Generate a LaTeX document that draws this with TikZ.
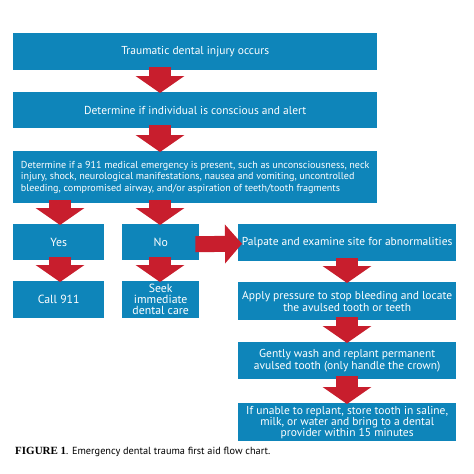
\documentclass[tikz,border=0pt]{standalone}
\usepackage{fontspec}
\setmainfont{PT Sans}
\newfontfamily\capserif{Liberation Serif}
\usetikzlibrary{arrows.meta}
\definecolor{boxblue}{RGB}{14,133,186}
\definecolor{arrowred}{RGB}{200,30,45}
\tikzset{
  box/.style={rectangle, fill=boxblue, text=white, anchor=north west, inner sep=0pt,
    align=center, font=\fontsize{11.5}{11.6}\selectfont},
  bigbox/.style={box, font=\fontsize{11.8}{11}\selectfont},
  barrow/.style={draw=arrowred, line width=22pt, -{Triangle[length=17pt,width=48pt]}},
  harrow/.style={draw=arrowred, line width=16pt, -{Triangle[length=17pt,width=38pt]}}
}
\begin{document}
\begin{tikzpicture}[x=1pt,y=-1pt]
\useasboundingbox (0,0) rectangle (474,474);
\fill[white] (0,0) rectangle (474,474);
% boxes
\node[box, minimum width=364pt, minimum height=37pt] (t1) at (13,33) {Traumatic dental injury occurs};
\node[box, minimum width=364pt, minimum height=36pt] (t2) at (13,92) {Determine if individual is conscious and alert};
\node[box, minimum width=364pt, minimum height=52pt, align=left, font=\fontsize{10.1}{11.7}\selectfont] (t3) at (13,151)
  {Determine if a 911 medical emergency is present, such as unconsciousness, neck\\
   injury, shock, neurological manifestations, nausea and vomiting, uncontrolled\\
   bleeding, compromised airway, and/or aspiration of teeth/tooth fragments};
\node[bigbox, minimum width=91pt, minimum height=36pt] (yes) at (13,224) {Yes};
\node[bigbox, minimum width=77pt, minimum height=36pt] (no) at (122,224) {No};
\node[bigbox, minimum width=91pt, minimum height=37pt] (call) at (13,281) {Call 911};
\node[bigbox, minimum width=77pt, minimum height=37pt] (seek) at (122,281) {Seek\\immediate\\dental care};
\node[box, minimum width=218pt, minimum height=37pt] (palp) at (238,224) {Palpate and examine site for abnormalities};
\node[box, minimum width=218pt, minimum height=38pt] (apply) at (238,282) {Apply pressure to stop bleeding and locate\\the avulsed tooth or teeth};
\node[box, minimum width=218pt, minimum height=37pt] (gent) at (238,342) {Gently wash and replant permanent\\avulsed tooth (only handle the crown)};
\node[box, minimum width=218pt, minimum height=38pt, font=\fontsize{11.5}{11}\selectfont] (unab) at (238,403) {If unable to replant, store tooth in saline,\\milk, or water and bring to a dental\\provider within 15 minutes};
% arrows
\draw[barrow] ([xshift=147pt,yshift=3pt]t1.south west) -- ([xshift=147pt,yshift=-1pt]t2.north west);
\draw[barrow] ([xshift=147pt,yshift=3pt]t2.south west) -- ([xshift=147pt,yshift=-1pt]t3.north west);
\draw[barrow] ([xshift=47pt,yshift=3pt]t3.south west) -- ([xshift=47pt,yshift=-1pt]yes.north west);
\draw[barrow] ([xshift=38pt,yshift=3pt]no.north west |- t3.south) -- ([xshift=38pt,yshift=-1pt]no.north west);
\draw[barrow] ([xshift=47pt,yshift=3pt]yes.south west) -- ([xshift=47pt,yshift=-1pt]call.north west);
\draw[barrow] ([xshift=38pt,yshift=3pt]no.south west) -- ([xshift=38pt,yshift=-1pt]seek.north west);
\draw[harrow] ([xshift=-4pt,yshift=-2pt]no.east) -- ([xshift=4pt,yshift=-1pt]palp.west);
\draw[barrow] ([xshift=109pt,yshift=3pt]palp.south west) -- ([xshift=109pt,yshift=-1pt]apply.north west);
\draw[barrow] ([xshift=109pt,yshift=3pt]apply.south west) -- ([xshift=109pt,yshift=-1pt]gent.north west);
\draw[barrow] ([xshift=109pt,yshift=3pt]gent.south west) -- ([xshift=109pt,yshift=-1pt]unab.north west);
% caption
\node[anchor=west, inner sep=0pt, font=\fontsize{10.3}{11}\selectfont] (cap) at (15,452)
  {{\capserif\bfseries\fontsize{11}{12}\selectfont FIGURE 1}. Emergency dental trauma first aid flow chart.};
\end{tikzpicture}
\end{document}
